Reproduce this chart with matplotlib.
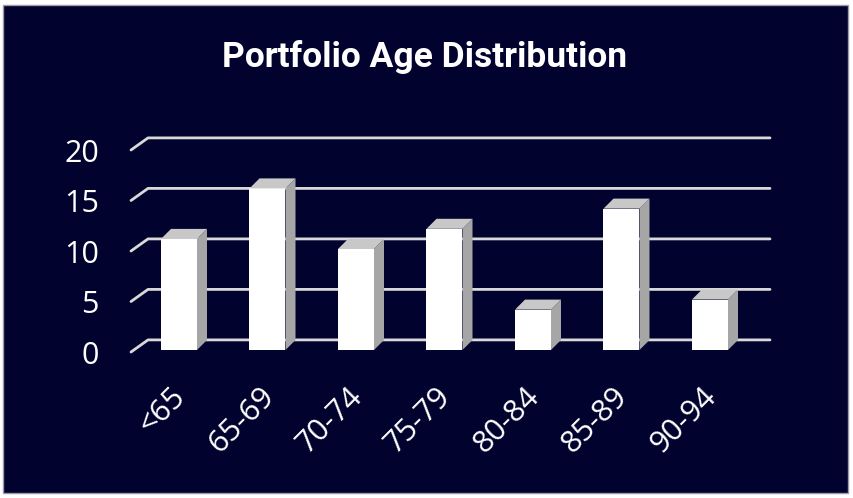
import numpy as np
import matplotlib.pyplot as plt
from matplotlib.patches import Polygon, Rectangle

# data
categories = ['<65', '65-69', '70-74', '75-79', '80-84', '85-89', '90-94']
counts = [11, 16, 10, 12, 4, 14, 5]
y_ticks = [0, 5, 10, 15, 20]

navy = '#02022E'
W, H = 854, 498

fig = plt.figure(figsize=(W / 100, H / 100), dpi=100, facecolor='white')
fig.patches.append(Rectangle((3 / W, 5 / H), 845 / W, 488 / H, transform=fig.transFigure,
                             facecolor=navy, edgecolor='#9a9aa8', lw=1, zorder=-10))

ax = fig.add_axes([0, 0, 1, 1])
ax.set_facecolor('none')
ax.axis('off')

# pixel layout: bar centres at 179 + 88.5*i, value 0 sits at y=350 px, 10.1 px per unit
x0, xstep = 179, 88.5
y0, ystep = 350, 10.1
ax.set_xlim(-x0 / xstep, (W - x0) / xstep)
ax.set_ylim((y0 - H) / ystep, y0 / ystep)

# fake 3D depth of the bars
dx, dy = 10 / xstep, 10 / ystep
bw = 36 / xstep

# gridlines: short slanted piece on the left, then the back wall
xa, xb, xc = (131 - x0) / xstep, (148 - x0) / xstep, (770 - x0) / xstep
for v in y_ticks:
    ax.plot([xa, xb, xc], [v - 0.2, v + 1.0, v + 1.0], color='#D9D9D9', lw=2,
            solid_capstyle='round', zorder=1)
    ax.text(xa - 32 / xstep, v - 0.2, str(v), ha='right', va='center_baseline',
            fontsize=22, color='white', family='Open Sans')

xs = np.arange(len(categories))
ax.bar(xs, counts, width=bw, color='white', zorder=3)
for i, v in zip(xs, counts):
    r = i + bw / 2
    side = Polygon([(r, 0), (r + dx, dy), (r + dx, v + dy), (r, v)],
                   closed=True, facecolor='#A6A6A6', edgecolor='none', zorder=3)
    top = Polygon([(i - bw / 2, v), (r, v), (r + dx, v + dy), (i - bw / 2 + dx, v + dy)],
                  closed=True, facecolor='#C8C8C8', edgecolor='none', zorder=3)
    ax.add_patch(side)
    ax.add_patch(top)

for i, lab in zip(xs, categories):
    ax.text(i + 2 / xstep, (y0 - 392) / ystep, lab, rotation=45, rotation_mode='anchor',
            ha='right', va='center', fontsize=22, color='white', family='Open Sans')

fig.text(425 / W, 1 - 57 / H, 'Portfolio Age Distribution', ha='center', va='center',
         fontsize=25.5, fontweight='bold', color='white', family='Roboto')

fig.savefig('out.png', dpi=100, facecolor='white')
